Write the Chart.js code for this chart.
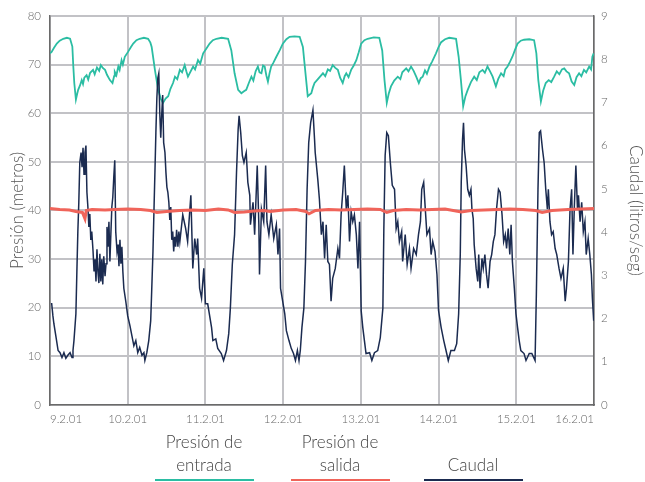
<!DOCTYPE html>
<html>
<head>
<meta charset="utf-8">
<script src="https://cdn.jsdelivr.net/npm/chart.js@4.4.1/dist/chart.umd.min.js"></script>
<style>
  body { margin: 0; background: #fff; }
  #wrap { position: relative; width: 645px; height: 482px; font-family: Lato, 'Open Sans', sans-serif; }
  #legend .item { position: absolute; top: 421px; width: 110px; height: 60px; display: flex; flex-direction: column; justify-content: flex-end; align-items: center; }
  #legend .txt { font-size: 17px; font-weight: 300; color: #444; line-height: 23px; text-align: center; white-space: pre; flex-shrink: 0; }
  #legend .bar { width: 99px; height: 2px; margin-top: 3px; flex-shrink: 0; }
</style>
</head>
<body>
<div id="wrap">
  <canvas id="chart" width="645" height="430"></canvas>
  <div id="legend"></div>
</div>
<script>
// hours from 9.2.01 00:00
const dayLabels = ['9.2.01', '10.2.01', '11.2.01', '12.2.01', '13.2.01', '14.2.01', '15.2.01', '16.2.01'];
const seriesNames = ['Presión de\nentrada', 'Presión de\nsalida', 'Caudal'];

// presión de entrada (metros)
const presionEntrada = [
  [0,72.3],[0.5,72.6],[1.2,73.4],[2.1,74.3],[3.0,74.9],[4.1,75.3],[5.2,75.5],[6.2,75.3],[6.9,73.7],[7.2,69.6],[7.5,66.2],[8.0,62.8],
  [8.4,64.0],[8.7,64.8],[9.2,65.6],[9.8,66.8],[10.2,66.0],[10.6,67.3],[11.3,67.8],[11.8,66.9],[12.4,68.3],[13.3,68.9],[13.8,68.0],
  [14.5,69.4],[15.2,68.7],[15.7,69.9],[16.3,69.3],[17.0,68.9],[17.6,67.9],[18.5,66.8],[19.3,66.2],[19.8,67.6],[20.0,68.5],[20.5,67.8],
  [21.1,69.6],[21.5,68.9],[22.1,70.9],[22.5,70.0],[23.1,71.6],[24.1,72.6],[25.0,73.6],[25.7,74.3],[26.7,75.0],[27.7,75.3],[29.0,75.5],
  [30.3,75.3],[31.0,74.5],[31.4,73.6],[32.0,70.8],[32.4,68.9],[33.4,64.8],[34.2,63.0],[34.9,62.1],[35.7,63.0],[36.5,63.5],[37.2,65.0],
  [38.0,66.2],[38.6,67.5],[39.3,67.0],[40.1,68.9],[40.8,68.4],[41.6,69.9],[42.1,68.6],[42.6,67.5],[43.2,68.3],[44.2,69.6],[44.8,69.0],
  [45.7,70.9],[46.4,70.2],[47.3,72.3],[48.2,73.2],[49.3,74.3],[50.3,75.0],[51.4,75.3],[53.0,75.5],[55.0,75.3],[56.0,72.9],[57.0,68.2],
  [58.1,64.8],[59.1,64.1],[59.9,64.5],[60.6,64.8],[61.4,66.2],[62.2,67.5],[62.8,66.7],[63.5,68.6],[64.2,69.6],[64.7,68.4],[65.3,68.2],
  [65.8,69.8],[66.3,69.6],[66.8,67.8],[67.3,66.5],[67.8,68.2],[68.3,69.6],[69.0,70.4],[69.9,71.6],[71.0,73.0],[71.9,74.3],[73.0,75.2],
  [74.0,75.7],[75.5,75.8],[77.1,75.7],[78.1,73.6],[78.9,68.2],[79.6,63.5],[80.7,64.1],[81.2,65.3],[81.7,66.2],[82.6,66.9],[83.4,67.5],
  [84.3,68.2],[85.0,67.6],[85.8,69.0],[86.5,68.7],[87.3,69.9],[88.1,69.3],[88.9,68.9],[89.6,67.3],[90.4,66.2],[91.0,67.6],[91.5,68.2],
  [92.2,67.4],[93.0,68.9],[93.8,69.8],[94.6,70.9],[95.3,72.4],[96.1,74.3],[97.1,75.0],[98.1,75.3],[100.0,75.6],[101.7,75.5],[102.6,72.9],
  [103.3,66.8],[104.0,62.1],[104.6,64.0],[105.3,65.5],[106.3,66.7],[107.4,67.5],[108.2,67.0],[108.8,68.4],[110.0,69.2],[110.7,68.6],
  [111.5,69.6],[112.3,68.7],[113.1,67.5],[113.9,66.2],[114.5,67.2],[115.1,67.5],[115.8,68.8],[116.4,68.1],[117.2,69.6],[118.0,70.6],
  [119.2,72.3],[120.0,73.6],[120.8,74.6],[122.0,75.2],[123.3,75.5],[125.4,75.3],[126.2,71.6],[126.9,66.8],[127.6,61.4],[128.3,63.5],
  [129.0,64.8],[130.0,66.4],[131.0,67.5],[131.8,66.8],[132.6,68.4],[133.6,68.9],[134.3,68.3],[135.1,69.6],[135.9,68.6],[136.7,67.5],
  [137.7,65.5],[138.4,67.0],[139.3,68.2],[140.1,67.6],[140.6,69.0],[141.3,69.6],[142.0,70.5],[142.8,71.6],[143.6,73.0],[144.4,74.3],
  [145.4,74.9],[146.4,75.1],[148.0,75.2],[149.5,75.0],[150.2,72.3],[150.8,66.8],[151.6,62.4],[152.3,64.6],[153.1,66.2],[154.0,66.8],
  [154.8,66.4],[155.7,67.5],[156.5,68.6],[157.3,68.0],[158.1,69.0],[158.8,69.2],[159.5,68.6],[160.3,68.2],[161.1,66.5],[161.9,65.8],
  [162.6,67.4],[163.4,68.2],[164.1,67.6],[164.9,68.9],[165.6,68.4],[166.5,69.6],[167.1,69.0],[167.5,71.6],[167.9,72.3]
];

// presión de salida (metros)
const presionSalida = [
  [0,40.4],[3,40.2],[6,40.1],[8,39.8],[10,39.6],[10.8,38.3],[11.2,40.0],[13,40.2],[17,40.1],[20,40.2],[24,40.3],[28,40.2],[31,40.0],
  [33,39.6],[36,39.8],[40,40.0],[44,40.1],[48,40.0],[52,40.3],[55,40.1],[57,39.6],[60,39.7],[63,39.9],[66,40.0],[68,39.8],[72,40.1],
  [76,40.2],[79,39.8],[80,39.3],[82,40.0],[86,40.2],[90,40.1],[94,40.2],[98,40.3],[102,40.2],[104,39.6],[106,40.0],[110,40.2],
  [114,40.1],[118,40.2],[122,40.3],[127,39.7],[130,40.0],[134,40.1],[138,40.2],[142,40.3],[146,40.2],[150,40.0],[152,39.6],[155,40.0],
  [160,40.2],[164,40.3],[168,40.4]
];

// caudal (litros/seg)
const caudal = [
  [0.5,2.36],[0.9,2.06],[1.2,1.88],[1.8,1.60],[2.5,1.26],[3.1,1.21],[3.7,1.10],[4.3,1.21],[4.9,1.08],[5.5,1.15],[6.2,1.21],[6.8,1.10],
  [7.1,1.26],[7.4,1.49],[8.0,2.11],[8.3,3.09],[8.6,4.01],[8.9,4.69],[9.2,5.61],[9.6,5.84],[9.9,5.50],[10.2,5.95],[10.5,5.34],[10.8,5.84],
  [11.1,6.00],[11.4,4.92],[11.7,4.58],[12.0,4.12],[12.3,4.42],[12.6,3.82],[12.9,4.01],[13.3,3.55],[13.6,3.09],[13.9,3.37],[14.2,2.86],
  [14.5,3.60],[14.8,3.09],[15.1,2.82],[15.4,3.50],[15.7,2.86],[16.0,3.37],[16.3,2.79],[16.6,3.44],[17.0,2.98],[17.3,3.27],[17.6,4.12],
  [17.9,3.66],[18.2,4.24],[18.5,3.32],[18.8,3.96],[19.1,4.58],[19.4,4.81],[19.7,5.27],[20.0,5.66],[20.3,4.01],[20.7,3.55],[21.0,3.71],
  [21.3,3.21],[21.6,3.82],[21.9,3.27],[22.2,3.66],[22.5,3.09],[22.8,2.70],[23.4,2.40],[24.0,2.06],[24.7,1.83],[25.3,1.60],[25.9,1.37],
  [26.5,1.49],[27.1,1.21],[27.7,1.33],[28.4,1.15],[29.0,1.21],[29.3,1.03],[29.9,1.21],[30.5,1.49],[31.1,1.95],[31.4,2.63],[31.8,3.55],
  [32.1,4.47],[32.4,5.38],[32.7,6.30],[33.0,7.10],[33.3,7.56],[33.6,7.67],[33.9,6.76],[34.2,6.18],[34.5,6.71],[34.8,7.17],[35.1,6.07],
  [35.5,5.84],[35.8,5.38],[36.1,5.04],[36.4,4.92],[36.7,4.69],[37.0,4.28],[37.3,4.58],[37.6,3.82],[37.9,4.01],[38.2,3.55],[38.5,3.89],
  [38.8,3.66],[39.1,4.05],[39.5,3.66],[39.8,4.01],[40.1,3.78],[41.0,4.40],[41.9,4.08],[42.5,3.78],[43.5,4.85],[44.1,3.16],[44.7,3.85],
  [45.3,3.48],[45.6,3.85],[46.2,2.70],[46.8,2.47],[47.5,3.16],[48.0,2.34],[48.7,2.34],[49.9,1.79],[50.3,1.49],[51.2,1.53],[51.8,1.31],
  [52.9,1.19],[53.6,1.03],[54.5,1.26],[55.2,1.65],[55.7,2.24],[56.3,3.25],[57.0,3.94],[57.6,5.38],[58.1,6.37],[58.4,6.69],[58.9,6.30],
  [59.4,5.77],[59.9,5.61],[60.6,5.84],[61.1,5.15],[61.7,4.85],[61.9,4.17],[62.7,4.69],[63.2,3.94],[64.0,5.54],[64.5,4.17],[64.7,3.02],
  [65.3,4.53],[66.0,4.24],[66.6,5.54],[67.0,4.24],[67.6,3.94],[68.3,4.40],[69.1,3.85],[69.9,4.17],[70.4,3.48],[70.9,4.08],[71.2,2.70],
  [71.7,2.47],[72.5,2.11],[73.0,1.72],[73.8,1.49],[74.5,1.31],[75.2,1.19],[75.8,1.03],[76.4,1.26],[76.9,1.03],[77.3,1.26],[77.8,1.79],
  [78.4,2.24],[78.9,3.32],[79.4,4.99],[79.9,6.07],[80.5,6.53],[81.2,6.82],[81.7,6.14],[81.9,5.84],[82.2,5.61],[82.7,5.22],[83.2,4.76],
  [83.8,3.94],[84.3,4.24],[84.8,3.39],[85.3,4.17],[85.8,3.32],[86.3,3.25],[86.8,2.40],[87.3,2.93],[88.1,3.16],[88.9,3.62],[89.4,3.39],
  [89.9,4.40],[90.4,4.92],[90.9,5.54],[91.5,4.53],[92.0,4.85],[92.5,3.78],[93.0,4.47],[93.5,4.24],[94.0,4.40],[94.6,3.94],[95.1,3.16],
  [95.6,4.24],[96.1,2.18],[96.6,1.79],[97.1,1.49],[97.6,1.19],[98.7,1.21],[99.4,1.03],[100.2,1.21],[101.2,1.26],[102.0,1.56],[102.8,2.24],
  [103.1,4.08],[103.5,5.77],[104.0,6.30],[104.5,6.23],[105.1,5.61],[105.7,5.08],[106.4,4.99],[106.9,4.08],[107.4,4.24],[107.9,3.78],
  [108.6,4.01],[108.9,3.32],[109.7,3.94],[110.3,3.25],[111.0,3.62],[111.5,3.16],[112.3,3.62],[113.1,3.48],[113.8,3.94],[114.4,4.24],
  [114.8,4.99],[115.4,5.15],[115.9,4.53],[116.4,3.94],[117.2,4.08],[117.7,3.48],[118.2,3.78],[118.9,3.55],[119.5,3.02],[120.0,2.18],
  [120.8,1.79],[121.6,1.49],[122.3,1.26],[123.0,1.03],[123.8,1.26],[124.9,1.26],[125.6,1.42],[126.2,2.11],[126.7,3.48],[127.0,5.15],
  [127.4,6.14],[127.7,6.53],[128.0,5.91],[128.5,5.54],[129.0,4.99],[129.5,4.85],[130.0,4.99],[130.3,4.53],[130.7,4.31],[131.0,3.71],
  [131.6,3.16],[132.1,2.86],[132.4,3.48],[132.8,2.70],[133.4,3.39],[133.8,3.16],[134.3,3.48],[134.8,3.02],[135.3,2.70],[135.9,3.32],
  [136.4,3.48],[136.9,3.78],[137.4,3.94],[137.9,4.53],[138.5,4.99],[139.0,4.92],[139.6,4.40],[140.1,3.78],[140.6,3.94],[141.0,3.62],
  [141.5,4.08],[142.0,3.48],[142.4,4.17],[142.8,3.32],[143.4,2.70],[143.9,2.11],[144.4,1.79],[144.9,1.49],[145.4,1.26],[146.4,1.19],
  [147.0,1.03],[148.0,1.19],[148.8,1.19],[149.8,1.03],[150.2,2.56],[150.7,4.99],[151.1,6.30],[151.5,6.34],[152.1,5.91],[152.6,5.61],
  [153.1,4.99],[153.6,4.53],[153.9,4.99],[154.4,4.24],[154.9,3.94],[155.4,4.01],[156.0,3.62],[156.5,3.48],[157.2,3.16],[157.8,2.93],
  [158.5,3.16],[159.1,2.40],[159.5,2.70],[160.1,3.32],[160.6,4.53],[161.1,4.99],[161.5,3.48],[161.9,4.53],[162.4,5.54],[162.9,4.53],
  [163.2,4.85],[163.7,4.24],[164.2,4.69],[164.7,4.01],[165.2,4.24],[165.6,3.48],[166.2,3.85],[166.7,3.48],[167.2,3.02],[167.5,2.47],
  [167.9,1.95]
];

const colors = ['#2bbda3', '#f0645a', '#1b2b50'];
const toXY = arr => arr.map(p => ({ x: p[0], y: p[1] }));

const tickFont = { family: 'Lato', size: 11.5, weight: '300' };
const titleFont = { family: 'Lato', size: 17, weight: '300' };
const gridColor = '#c2c2c6';

new Chart(document.getElementById('chart').getContext('2d'), {
  type: 'line',
  data: {
    datasets: [
      { label: seriesNames[1], data: toXY(presionSalida), yAxisID: 'y', borderColor: colors[1], borderWidth: 3, order: 0 },
      { label: seriesNames[2], data: toXY(caudal), yAxisID: 'y2', borderColor: colors[2], borderWidth: 1.5, order: 1 },
      { label: seriesNames[0], data: toXY(presionEntrada), yAxisID: 'y', borderColor: colors[0], borderWidth: 1.8, order: 2 }
    ]
  },
  options: {
    responsive: false,
    animation: false,
    layout: { padding: { top: 12, left: 0, right: 0, bottom: 0 } },
    elements: { point: { radius: 0 }, line: { tension: 0 } },
    plugins: { legend: { display: false }, tooltip: { enabled: false } },
    scales: {
      x: {
        type: 'linear', min: 0, max: 168,
        afterBuildTicks: s => { s.ticks = dayLabels.map((_, i) => ({ value: i * 24 })); },
        afterFit: s => { s.height = 25; },
        ticks: { callback: v => dayLabels[v / 24], font: tickFont, color: '#666', padding: 7, align: 'inner', maxRotation: 0 },
        grid: { color: gridColor, lineWidth: 2, drawTicks: false },
        border: { color: '#6a6a6a', width: 1.5 }
      },
      y: {
        position: 'left', min: 0, max: 80,
        afterFit: s => { s.width = 50; },
        ticks: { stepSize: 10, font: tickFont, color: '#666', padding: 9 },
        grid: { color: gridColor, lineWidth: 2, drawTicks: false },
        border: { color: '#6a6a6a', width: 1.5 },
        title: { display: true, text: 'Presión (metros)', font: titleFont, color: '#555', padding: { top: 7, bottom: 0 } }
      },
      y2: {
        position: 'right', min: 0, max: 9,
        afterFit: s => { s.width = 51; },
        ticks: { stepSize: 1, font: tickFont, color: '#666', padding: 7 },
        grid: { display: false, drawTicks: false },
        border: { color: '#6a6a6a', width: 1.5 },
        title: { display: true, text: 'Caudal (litros/seg)', font: { family: 'Lato', size: 17, weight: '300', lineHeight: 1 }, color: '#555', padding: { top: 1, bottom: 0 } }
      }
    }
  }
});

// leyenda inferior
const legendCenters = [204, 340, 473];
const legend = document.getElementById('legend');
seriesNames.forEach(function (name, i) {
  const item = document.createElement('div');
  item.className = 'item';
  item.style.left = (legendCenters[i] - 55) + 'px';
  item.innerHTML = '<div class="txt"></div><div class="bar"></div>';
  item.querySelector('.txt').textContent = name;
  item.querySelector('.bar').style.background = colors[i];
  legend.appendChild(item);
});
</script>
</body>
</html>
